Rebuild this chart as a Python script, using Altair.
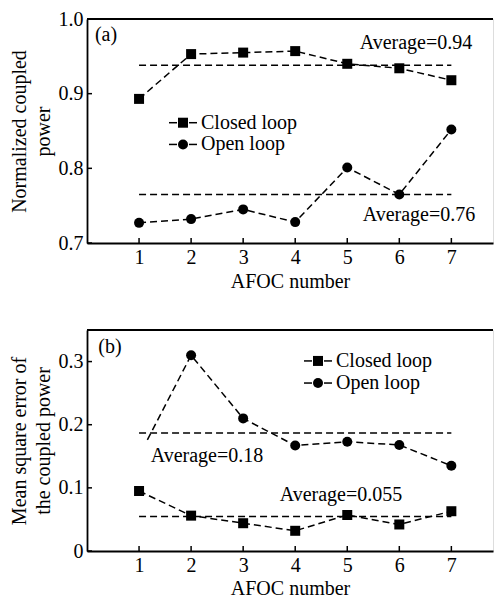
import altair as alt
import pandas as pd

FONT = "Liberation Serif"

afoc = [1, 2, 3, 4, 5, 6, 7]
x_ticks = [1, 2, 3, 4, 5, 6, 7]

# Panel (a)
closed_a = [0.893, 0.953, 0.955, 0.957, 0.940, 0.934, 0.918]
open_a = [0.727, 0.732, 0.745, 0.728, 0.801, 0.765, 0.852]
avg_a = [0.938, 0.765]
avg_a_labels = ["Average=0.94", "Average=0.76"]
y_ticks_a = [0.7, 0.8, 0.9, 1.0]

# Panel (b)
closed_b = [0.095, 0.056, 0.044, 0.032, 0.057, 0.042, 0.063]
open_b_x = [1.16, 2, 3, 4, 5, 6, 7]
open_b = [0.176, 0.310, 0.210, 0.167, 0.173, 0.168, 0.135]
open_b_marker = [False, True, True, True, True, True, True]
avg_b = [0.187, 0.0547]
avg_b_labels = ["Average=0.18", "Average=0.055"]
y_ticks_b = [0.0, 0.1, 0.2, 0.3]

series = ["Closed loop", "Open loop"]

W = 406
HA = 224
HB = 221
DASH = [7, 4]


def txt(s, x, y, size=20, align="center"):
    return alt.Chart(pd.DataFrame({"t": [s]})).mark_text(
        font=FONT, fontSize=size, align=align, baseline="middle", color="black"
    ).encode(x=alt.value(x), y=alt.value(y), text="t:N")


def legend(x0, y0, label, shape):
    d = pd.DataFrame({"t": [label]})
    seg1 = alt.Chart(d).mark_rule(color="black", strokeWidth=1.5).encode(
        x=alt.value(x0), x2=alt.value(x0 + 8), y=alt.value(y0))
    seg2 = alt.Chart(d).mark_rule(color="black", strokeWidth=1.5).encode(
        x=alt.value(x0 + 20), x2=alt.value(x0 + 28), y=alt.value(y0))
    pt = alt.Chart(d).mark_point(
        shape=shape, filled=True, color="black", opacity=1, size=100).encode(
        x=alt.value(x0 + 14), y=alt.value(y0))
    t = txt(label, x0 + 32, y0, size=20, align="left")
    return [seg1, seg2, pt, t]


def panel(lines_df, pts_df, avg_vals, ydom, yticks, ytitle, h, texts, label_expr=None,
          label_pad=4, title_pad=4):
    xs = alt.Scale(domain=[0, 7.8], nice=False)
    ys = alt.Scale(domain=ydom, nice=False, zero=False)
    yaxis_kw = dict(values=yticks, title=ytitle, ticks=False, grid=False,
                    labelFont=FONT, labelFontSize=20, labelPadding=4,
                    titleFont=FONT, titleFontSize=20, titleFontWeight="normal",
                    titlePadding=5, titleLineHeight=24,
                    domainColor="black", domainWidth=1.8, labelColor="black", titleColor="black")
    if label_expr:
        yaxis_kw["labelExpr"] = label_expr
    else:
        yaxis_kw["format"] = ".1f"
    xax = alt.Axis(values=x_ticks, title="AFOC number", ticks=False, grid=False,
                   labelFont=FONT, labelFontSize=20, labelPadding=label_pad,
                   titleFont=FONT, titleFontSize=20, titleFontWeight="normal", titlePadding=title_pad,
                   domainColor="black", domainWidth=1.8, labelColor="black", titleColor="black",
                   labelFlush=False)
    yax = alt.Axis(**yaxis_kw)
    X = lambda: alt.X("x:Q", scale=xs, axis=xax)
    Y = lambda: alt.Y("y:Q", scale=ys, axis=yax)

    base_lines = alt.Chart(lines_df).mark_line(
        color="black", strokeDash=DASH, strokeWidth=1.5).encode(x=X(), y=Y(), detail="s:N")
    avg_df = pd.DataFrame({"x": [1] * len(avg_vals), "x2": [7] * len(avg_vals), "y": avg_vals})
    avg = alt.Chart(avg_df).mark_rule(color="black", strokeDash=DASH, strokeWidth=1.5).encode(
        x=X(), x2="x2:Q", y=Y())
    pts = alt.Chart(pts_df).mark_point(filled=True, color="black", opacity=1, size=100).encode(
        x=X(), y=Y(),
        shape=alt.Shape("s:N", scale=alt.Scale(domain=series, range=["square", "circle"]), legend=None))
    xt = alt.Chart(pd.DataFrame({"x": x_ticks})).mark_rule(color="black", strokeWidth=1.5).encode(
        x=X(), y=alt.value(h), y2=alt.value(h - 5))
    yt = alt.Chart(pd.DataFrame({"y": yticks})).mark_rule(color="black", strokeWidth=1.5).encode(
        y=Y(), x=alt.value(0), x2=alt.value(5))
    top = alt.Chart(pd.DataFrame({"y": [ydom[1]]})).mark_rule(color="black", strokeWidth=1.8).encode(
        x=alt.value(0), x2=alt.value(W), y=alt.value(0))
    return alt.layer(base_lines, avg, pts, xt, yt, top, *texts).properties(width=W, height=h)


# Build panel (a)
la = pd.DataFrame({"x": afoc + afoc, "y": closed_a + open_a,
                   "s": ["Closed loop"] * 7 + ["Open loop"] * 7})
texts_a = [txt("(a)", 19, 16), txt(avg_a_labels[0], 329, 24), txt(avg_a_labels[1], 332, 0.877 * HA)]
texts_a += legend(82, 0.463 * HA, "Closed loop", "square") + legend(82, 0.56 * HA, "Open loop", "circle")
pa = panel(la, la, avg_a, [0.7, 1.0], y_ticks_a, ["Normalized coupled", "power"], HA, texts_a)

# Build panel (b)
lb = pd.DataFrame({"x": afoc + open_b_x, "y": closed_b + open_b,
                   "s": ["Closed loop"] * 7 + ["Open loop"] * 7,
                   "m": [True] * 7 + open_b_marker})
pb_pts = lb[lb["m"]]
texts_b = [txt("(b)", 23, 17), txt(avg_b_labels[0], 120, 0.571 * HB), txt(avg_b_labels[1], 254, 0.745 * HB)]
texts_b += legend(217, 0.14 * HB, "Closed loop", "square") + legend(217, 0.24 * HB, "Open loop", "circle")
pb = panel(lb, pb_pts, avg_b, [0.0, 0.35], y_ticks_b, ["Mean square error of", "the coupled power"], HB,
           texts_b, label_expr="datum.value == 0 ? '0' : format(datum.value, '.1f')",
           label_pad=4, title_pad=3)

chart = alt.vconcat(pa, pb, spacing=36).properties(
    padding={"left": 0, "top": 0, "right": 0, "bottom": 0}
).configure_view(stroke=None).configure(background="white")

chart.save("out.html", embed_options={"renderer": "svg", "actions": False})
